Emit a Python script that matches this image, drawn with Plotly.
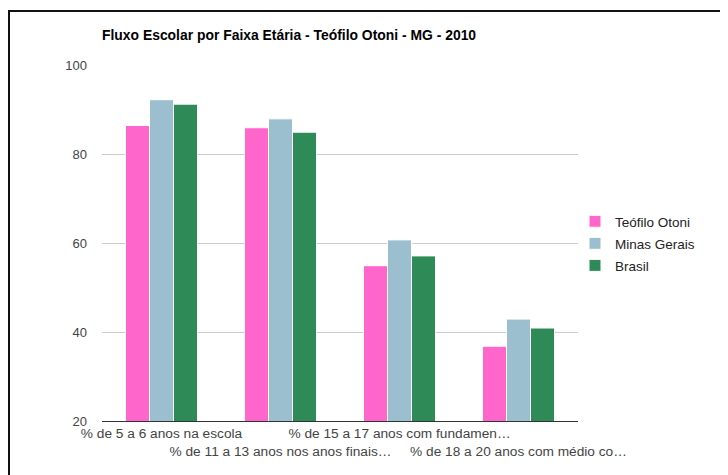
import plotly.graph_objects as go

categories = [
    "% de 5 a 6 anos na escola",
    "% de 11 a 13 anos nos anos finais…",
    "% de 15 a 17 anos com fundamen…",
    "% de 18 a 20 anos com médio co…",
]
tick_labels = [
    "% de 5 a 6 anos na escola",
    "<br>% de 11 a 13 anos nos anos finais…",
    "% de 15 a 17 anos com fundamen…",
    "<br>% de 18 a 20 anos com médio co…",
]
series_names = ["Teófilo Otoni", "Minas Gerais", "Brasil"]
teofilo = [86.4, 85.9, 54.9, 36.8]
minas = [92.2, 87.9, 60.7, 42.9]
brasil = [91.2, 84.9, 57.1, 40.9]
colors = ["#FF66CC", "#9BBFCE", "#2E8B57"]

fig = go.Figure()
for name, vals, col in zip(series_names, [teofilo, minas, brasil], colors):
    fig.add_trace(go.Bar(
        x=categories, y=vals, name=name, legendgroup=name,
        marker=dict(color=col, line=dict(color="white", width=1)),
    ))

# page offset of the figure (browser default body margin)
O = 8
W, H = 728 - O, 475 - O
# plot area in page pixels
L, R, T, B = 102, 578, 65, 421

def px_x(p):
    return (p - L) / (R - L)

def px_y(p):
    return (B - p) / (B - T)

fig.update_layout(
    width=W, height=H,
    margin=dict(l=L - O, r=W - (R - O), t=T - O, b=H - (B - O), autoexpand=False),
    paper_bgcolor="white", plot_bgcolor="white",
    font=dict(family="Liberation Sans, Arial, sans-serif", size=13, color="#222"),
    barmode="group", bargap=0.395, bargroupgap=0,
    title=dict(
        text="<b>Fluxo Escolar por Faixa Etária - Teófilo Otoni - MG - 2010</b>",
        x=px_x(102), xref="paper", xanchor="left",
        y=1 - (35 - O) / H, yanchor="middle",
        font=dict(size=13.9, color="#000"),
    ),
    legend=dict(
        x=px_x(575), xref="paper", xanchor="left",
        y=px_y(206), yanchor="top",
        font=dict(size=13.5, color="#222"),
        tracegroupgap=1.5, itemwidth=30,
        bgcolor="rgba(0,0,0,0)",
    ),
    xaxis=dict(
        tickmode="array", tickvals=categories, ticktext=tick_labels,
        tickangle=0, showgrid=False, showline=True, linecolor="#333",
        linewidth=1, tickfont=dict(size=13.7, color="#444"), ticks="",
    ),
    yaxis=dict(
        range=[20, 100], tickvals=[20, 40, 60, 80, 100],
        showgrid=True, gridcolor="#CCCCCC", gridwidth=1,
        zeroline=False, showline=False, ticks="",
        tickfont=dict(size=13, color="#444"),
        ticklabelstandoff=14,
    ),
    shapes=[dict(
        type="rect", xref="paper", yref="paper",
        x0=px_x(9), x1=px_x(760), y0=px_y(520), y1=px_y(11),
        line=dict(color="#111", width=2), fillcolor="rgba(0,0,0,0)",
        layer="above",
    )],
)

fig.write_html("out.html")
